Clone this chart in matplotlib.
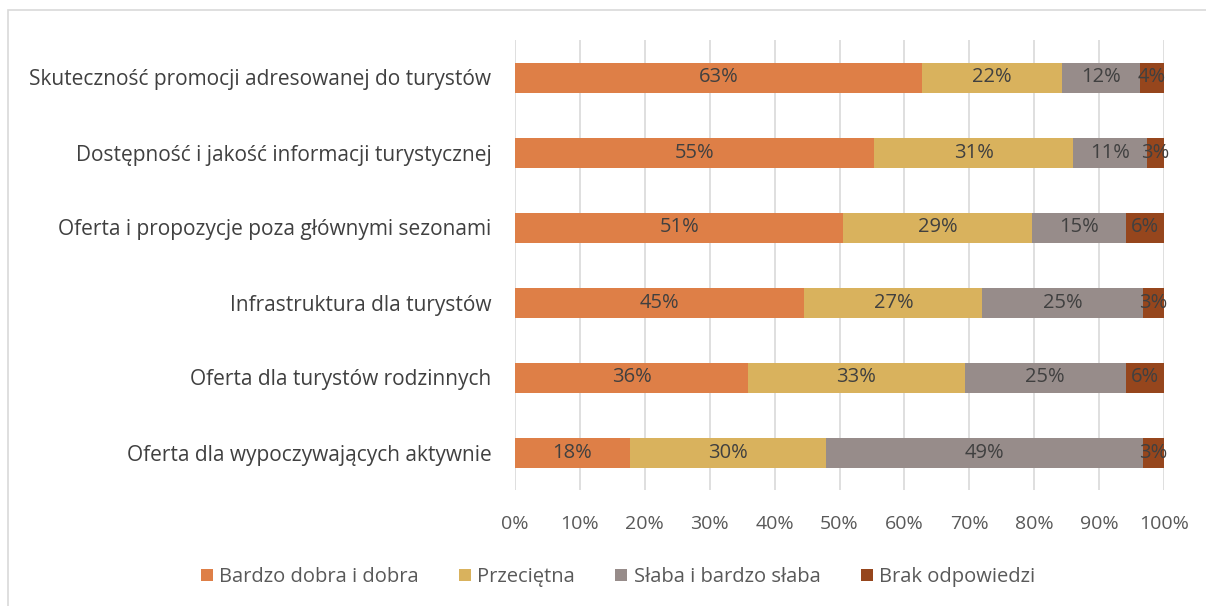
import matplotlib.pyplot as plt
from matplotlib.patches import Rectangle

# DATA ------------------------------------------------------
categories = ["Skuteczność promocji adresowanej do turystów",
              "Dostępność i jakość informacji turystycznej",
              "Oferta i propozycje poza głównymi sezonami",
              "Infrastruktura dla turystów",
              "Oferta dla turystów rodzinnych",
              "Oferta dla wypoczywających aktywnie"]

series_names = ["Bardzo dobra i dobra", "Przeciętna", "Słaba i bardzo słaba", "Brak odpowiedzi"]

dobra = [62.7, 55.3, 50.6, 44.6, 35.9, 17.7]
przecietna = [21.6, 30.7, 29.0, 27.4, 33.4, 30.2]
slaba = [12.0, 11.4, 14.6, 24.8, 24.8, 48.8]
brak = [3.7, 2.6, 5.8, 3.2, 5.9, 3.3]

x_ticks = [0, 10, 20, 30, 40, 50, 60, 70, 80, 90, 100]

colors = ["#DE7F47", "#D9B25D", "#978C8A", "#96461D"]

# Graph ------------------------------------------------------
plt.rcParams['font.family'] = ['Open Sans', 'DejaVu Sans']

fig = plt.figure(figsize=(12.06, 6.06), dpi=100)
ax = fig.add_axes([515 / 1206, 1 - 490 / 606, 649 / 1206, 450 / 606])

# chart border
fig.patches.append(Rectangle((8 / 1206, -0.05), 1.1, 1 - 10 / 606 + 0.05,
                             transform=fig.transFigure, fill=False,
                             edgecolor="#D9D9D9", linewidth=1.2))

ypos = list(range(len(categories)))
left = [0] * len(categories)
for name, vals, col in zip(series_names, [dobra, przecietna, slaba, brak], colors):
    bars = ax.barh(ypos, vals, left=left, height=0.4, color=col, label=name, zorder=2)
    ax.bar_label(bars, labels=[f"{round(v):d}%" for v in vals], label_type="center",
                 color="#404040", fontsize=14.5)
    left = [l + v for l, v in zip(left, vals)]

ax.set_xlim(0, 100)
ax.set_ylim(len(categories) - 0.5, -0.5)
ax.set_yticks(ypos)
ax.set_yticklabels(categories, fontsize=15, color="#404040")
ax.set_xticks(x_ticks)
ax.set_xticklabels([f"{t}%" for t in x_ticks], fontsize=14, color="#595959")
ax.tick_params(axis="both", length=0)
ax.tick_params(axis="x", pad=18)
ax.tick_params(axis="y", pad=17)
for s in ax.spines.values():
    s.set_visible(False)
ax.grid(axis="x", color="#D9D9D9", linewidth=1.2, zorder=0)
ax.set_axisbelow(True)

fig.legend(loc="center", bbox_to_anchor=(618 / 1206, 1 - 577 / 606), ncol=4,
           frameon=False, fontsize=14.5, labelcolor="#595959",
           handlelength=0.6, handleheight=0.6, handletextpad=0.3, columnspacing=2.0)

fig.savefig("out.png", dpi=100)
